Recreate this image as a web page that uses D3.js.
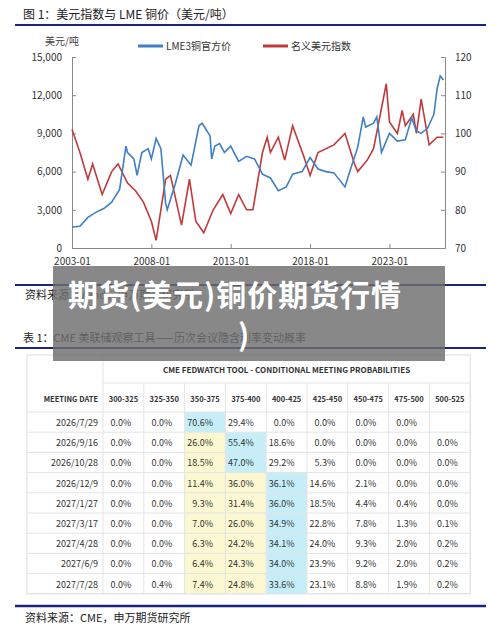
<!DOCTYPE html><html><head><meta charset="utf-8"><script src="https://cdn.jsdelivr.net/npm/d3@7"></script>
<style>body{margin:0;background:#fff}text{font-family:"Noto Sans CJK SC","Liberation Sans",sans-serif}</style></head><body><svg id="c" width="500" height="628"></svg><script>
const copperT=[2003.0,2003.5,2004.0,2004.5,2005.0,2005.5,2006.0,2006.4,2006.5,2006.9,2007.1,2007.4,2007.8,2008.0,2008.3,2008.6,2008.9,2009.0,2009.5,2010.0,2010.5,2011.0,2011.2,2011.7,2011.8,2012.0,2012.3,2012.6,2013.0,2013.5,2014.0,2014.5,2015.0,2015.5,2016.0,2016.5,2016.9,2017.5,2018.0,2018.5,2019.0,2019.5,2020.2,2020.5,2021.0,2021.35,2021.5,2022.0,2022.2,2022.5,2023.0,2023.5,2024.0,2024.4,2024.7,2025.0,2025.4,2025.8,2026.0,2026.2,2026.4];
const copperV=[1650,1700,2400,2800,3100,3600,4600,8000,7500,7000,5700,7500,7800,7000,8600,7800,3500,3000,5000,7300,6500,9600,9800,8800,7000,8000,8200,7500,8000,6800,7200,7000,5800,5500,4500,4800,5800,6000,7100,6200,6000,5900,4800,6000,7900,10300,9500,9800,10300,7500,9000,8400,8500,10200,9200,9000,9400,10500,12500,13500,13200];
const dxyT=[2003.0,2003.5,2004.0,2004.3,2004.9,2005.5,2005.9,2006.5,2007.0,2007.5,2008.0,2008.3,2008.9,2009.2,2009.9,2010.4,2010.8,2011.3,2011.9,2012.5,2013.0,2013.5,2014.0,2014.4,2015.0,2015.3,2015.5,2016.0,2016.4,2016.9,2017.6,2018.0,2018.5,2019.5,2020.2,2020.8,2021.0,2021.6,2022.0,2022.8,2023.0,2023.5,2023.8,2024.0,2024.5,2024.7,2025.0,2025.5,2026.0,2026.4];
const dxyV=[101,95,88,92,84,90,92,87,85,82,77,72,88,89,76,88,77,74,80,84,79,84,80,80,95,99,95,99,93,102,94,89,95,97,100,92,90,93,96,113,103,100,106,102,105,100,109,97,99,99];
const xTicks=["2003-01","2008-01","2013-01","2018-01","2023-01"];
const cols=["300-325","325-350","350-375","375-400","400-425","425-450","450-475","475-500","500-525"];
const dates=["2026/7/29","2026/9/16","2026/10/28","2026/12/9","2027/1/27","2027/3/17","2027/4/28","2027/6/9","2027/7/28"];
const probs=[
["0.0%","0.0%","70.6%","29.4%","0.0%","0.0%","0.0%","0.0%",""],
["0.0%","0.0%","26.0%","55.4%","18.6%","0.0%","0.0%","0.0%","0.0%"],
["0.0%","0.0%","18.5%","47.0%","29.2%","5.3%","0.0%","0.0%","0.0%"],
["0.0%","0.0%","11.4%","36.0%","36.1%","14.6%","2.1%","0.0%","0.0%"],
["0.0%","0.0%","9.3%","31.4%","36.0%","18.5%","4.4%","0.4%","0.0%"],
["0.0%","0.0%","7.0%","26.0%","34.9%","22.8%","7.8%","1.3%","0.1%"],
["0.0%","0.0%","6.3%","24.2%","34.1%","24.0%","9.3%","2.0%","0.2%"],
["0.0%","0.0%","6.4%","24.3%","34.0%","23.9%","9.2%","2.0%","0.2%"],
["0.0%","0.4%","7.4%","24.8%","33.6%","23.1%","8.8%","1.9%","0.2%"]];
const svg=d3.select("#c");const navy="#1a237e";
function hl(y){svg.append("line").attr("x1",15).attr("x2",486).attr("y1",y).attr("y2",y).attr("stroke",navy).attr("stroke-width",2);}
svg.append("text").attr("x",23).attr("y",19).attr("font-size",12).attr("fill","#222").text("图 1：美元指数与 LME 铜价（美元/吨）");hl(25);
const x=d3.scaleLinear().domain([2003,2026.5]).range([72,445]);
const yL=d3.scaleLinear().domain([0,15000]).range([248,57]);
const yR=d3.scaleLinear().domain([70,120]).range([248,57]);
const st=g=>{g.select(".domain").attr("stroke","#888");g.selectAll("line").attr("stroke","#888");g.selectAll("text").attr("font-size",10).attr("fill","#333")};
svg.append("g").attr("transform","translate(72,0)").call(d3.axisLeft(yL).tickValues([0,3000,6000,9000,12000,15000]).tickFormat(d3.format(",")).tickSize(-4).tickPadding(10)).call(st);
svg.append("g").attr("transform","translate(445,0)").call(d3.axisRight(yR).tickValues([70,80,90,100,110,120]).tickSize(-4).tickPadding(10)).call(st);
svg.append("g").attr("transform","translate(0,248)").call(d3.axisBottom(x).tickValues([2003,2008,2013,2018,2023]).tickFormat((d,i)=>xTicks[i]).tickSize(-4).tickPadding(10)).call(st);
svg.append("path").datum(dxyT.map((t,i)=>[t,dxyV[i]])).attr("d",d3.line().x(d=>x(d[0])).y(d=>yR(d[1]))).attr("fill","none").attr("stroke","#c0393b").attr("stroke-width",1.6);
svg.append("path").datum(copperT.map((t,i)=>[t,copperV[i]])).attr("d",d3.line().x(d=>x(d[0])).y(d=>yL(d[1]))).attr("fill","none").attr("stroke","#3f7fc4").attr("stroke-width",1.6);
svg.append("text").attr("x",45).attr("y",45).attr("font-size",10).attr("fill","#444").text("美元/吨");
svg.append("line").attr("x1",138).attr("x2",163).attr("y1",46).attr("y2",46).attr("stroke","#3f7fc4").attr("stroke-width",3);
svg.append("text").attr("x",166).attr("y",50).attr("font-size",10).attr("fill","#333").text("LME3铜官方价");
svg.append("line").attr("x1",263).attr("x2",288).attr("y1",46).attr("y2",46).attr("stroke","#c0393b").attr("stroke-width",3);
svg.append("text").attr("x",291).attr("y",50).attr("font-size",10).attr("fill","#333").text("名义美元指数");
hl(285);svg.append("text").attr("x",25).attr("y",299).attr("font-size",11).attr("fill","#222").text("资料来源：Wind，申万期货研究所");
svg.append("text").attr("x",23).attr("y",342).attr("font-size",11).attr("fill","#222").text("表 1：CME 美联储观察工具——历次会议隐含利率变动概率");hl(348);
const tx=27,dw=76,cw=40.8,ty0=355,rh=20.2,r1=412;
const cx=j=>tx+dw+j*cw;
svg.append("rect").attr("x",tx).attr("y",ty0).attr("width",dw+9*cw).attr("height",r1+9*rh-ty0).attr("fill","#fff").attr("stroke","#ddd");
probs.forEach((row,i)=>row.forEach((v,j)=>{let f=null;
 const mx=d3.max(row.map(s=>parseFloat(s)||0));
 if(parseFloat(v)===mx&&v!=="")f="#c6eef8";else if((j===2&&i>=1)||(j===3&&i>=3))f="#fbf8d2";
 if(f)svg.append("rect").attr("x",cx(j)).attr("y",r1+i*rh).attr("width",cw).attr("height",rh).attr("fill",f);
 svg.append("text").attr("x",cx(j)+cw/2+8).attr("y",r1+i*rh+14).attr("text-anchor","end").attr("font-size",9).attr("fill","#333").attr("font-family","Liberation Sans").text(v);
}));
dates.forEach((d,i)=>{svg.append("text").attr("x",tx+dw-5).attr("y",r1+i*rh+14).attr("text-anchor","end").attr("font-size",9).attr("fill","#333").attr("font-family","Liberation Sans").text(d);
 svg.append("line").attr("x1",tx).attr("x2",tx+dw+9*cw).attr("y1",r1+(i+1)*rh).attr("y2",r1+(i+1)*rh).attr("stroke","#e4e4e4");});
for(let j=0;j<=9;j++)svg.append("line").attr("x1",cx(j)).attr("x2",cx(j)).attr("y1",j===0?ty0:383).attr("y2",r1+9*rh).attr("stroke","#e4e4e4");
svg.append("line").attr("x1",tx).attr("x2",tx+dw+9*cw).attr("y1",r1).attr("y2",r1).attr("stroke","#e4e4e4");
svg.append("line").attr("x1",cx(0)).attr("x2",tx+dw+9*cw).attr("y1",383).attr("y2",383).attr("stroke","#e4e4e4");
svg.append("text").attr("x",(cx(0)+cx(9))/2).attr("y",373).attr("text-anchor","middle").attr("font-size",8).attr("font-weight","bold").attr("fill","#333").attr("font-family","Liberation Sans").text("CME FEDWATCH TOOL - CONDITIONAL MEETING PROBABILITIES");
svg.append("text").attr("x",tx+dw-5).attr("y",402).attr("text-anchor","end").attr("font-size",7.5).attr("font-weight","bold").attr("fill","#333").attr("font-family","Liberation Sans").text("MEETING DATE");
cols.forEach((c,j)=>svg.append("text").attr("x",cx(j)+cw/2).attr("y",402).attr("text-anchor","middle").attr("font-size",7.5).attr("font-weight","bold").attr("fill","#333").attr("font-family","Liberation Sans").text(c));
svg.append("line").attr("x1",15).attr("x2",486).attr("y1",606).attr("y2",606).attr("stroke",navy).attr("stroke-width",2.5);
svg.append("text").attr("x",25).attr("y",622).attr("font-size",11).attr("fill","#222").text("资料来源：CME，申万期货研究所");
svg.append("rect").attr("x",53).attr("y",266).attr("width",392).attr("height",95).attr("fill","#6e6e6e").attr("opacity",0.82);
const ov=svg.append("g").attr("fill","#fff").attr("font-weight","bold").attr("font-size",30);
ov.append("text").attr("x",68).attr("y",306).attr("textLength",333).text("期货(美元)铜价期货行情");
ov.append("text").attr("x",238).attr("y",346).text(")");
</script></body></html>
